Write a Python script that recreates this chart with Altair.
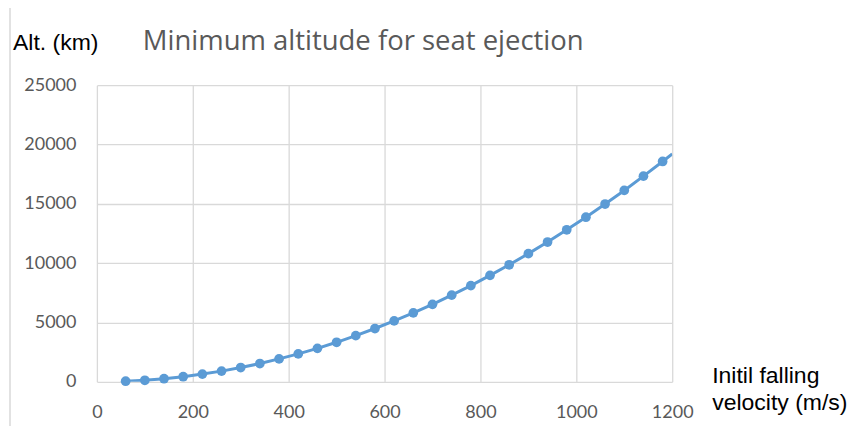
import altair as alt
import pandas as pd

# Data
velocity = [60, 100, 140, 180, 220, 260, 300, 340, 380, 420, 460, 500, 540, 580, 620,
            660, 700, 740, 780, 820, 860, 900, 940, 980, 1020, 1060, 1100, 1140, 1180]
altitude = [50, 130, 260, 430, 650, 900, 1200, 1540, 1930, 2350, 2820, 3330, 3890, 4490, 5130,
            5810, 6530, 7300, 8110, 8970, 9860, 10800, 11780, 12810, 13870, 14980, 16130, 17330, 18570]
# the drawn curve continues to the right edge of the plot
curve_end_velocity = [1200]
curve_end_altitude = [19200]

x_ticks = [0, 200, 400, 600, 800, 1000, 1200]
y_ticks = [0, 5000, 10000, 15000, 20000, 25000]

title_text = "Minimum altitude for seat ejection"
y_title = "Alt. (km)"
x_title = "Initil falling\nvelocity (m/s)"

pts = pd.DataFrame({"v": velocity, "h": altitude})
line_df = pd.DataFrame({"v": velocity + curve_end_velocity, "h": altitude + curve_end_altitude})

BLUE = "#5b9bd5"
GRID = "#d9d9d9"
LABEL = "#595959"
FONT = "Lato"

x_enc = alt.X("v:Q", scale=alt.Scale(domain=[0, 1200], nice=False),
              axis=alt.Axis(values=x_ticks, title=None, domain=False, ticks=False, tickSize=0,
                            labelFlush=False, labelPadding=22, labelFont=FONT, labelFontSize=18,
                            labelColor=LABEL, gridColor=GRID, gridWidth=1.3, format="d"))
y_enc = alt.Y("h:Q", scale=alt.Scale(domain=[0, 25000], nice=False),
              axis=alt.Axis(values=y_ticks, title=None, domain=False, ticks=False, tickSize=0,
                            labelFlush=False, labelPadding=21, labelFont=FONT, labelFontSize=18,
                            labelColor=LABEL, gridColor=GRID, gridWidth=1.3, format="d"))

line = alt.Chart(line_df).mark_line(color=BLUE, strokeWidth=3, clip=True).encode(x=x_enc, y=y_enc)
points = alt.Chart(pts).mark_circle(color=BLUE, size=95, opacity=1).encode(x="v:Q", y="h:Q")

title = alt.Chart(pd.DataFrame({"t": [title_text]})).mark_text(
    font="Open Sans", fontSize=27.5, color=LABEL, align="left", baseline="alphabetic"
).encode(text="t:N", x=alt.value(46), y=alt.value(-35))

ytitle = alt.Chart(pd.DataFrame({"t": [y_title]})).mark_text(
    font="Liberation Sans", fontSize=23, color="#000000", align="left", baseline="alphabetic"
).encode(text="t:N", x=alt.value(-84), y=alt.value(-35))

xtitle = alt.Chart(pd.DataFrame({"t": [x_title]})).mark_text(
    font="Liberation Sans", fontSize=23, color="#000000", align="left", baseline="alphabetic",
    lineBreak="\n", lineHeight=27
).encode(text="t:N", x=alt.value(616), y=alt.value(298))

border = alt.Chart(pd.DataFrame({"a": [0]})).mark_rule(color=GRID, strokeWidth=1.5).encode(
    x=alt.value(-87), y=alt.value(-90), y2=alt.value(360))

chart = alt.layer(border, line, points, title, ytitle, xtitle).properties(
    width=576, height=297,
    autosize=alt.AutoSizeParams(type="none"),
    padding={"left": 89, "top": 77, "right": 175, "bottom": 44},
).configure_view(stroke=None)

chart.save("out.html", embed_options={"renderer": "svg", "actions": False})
